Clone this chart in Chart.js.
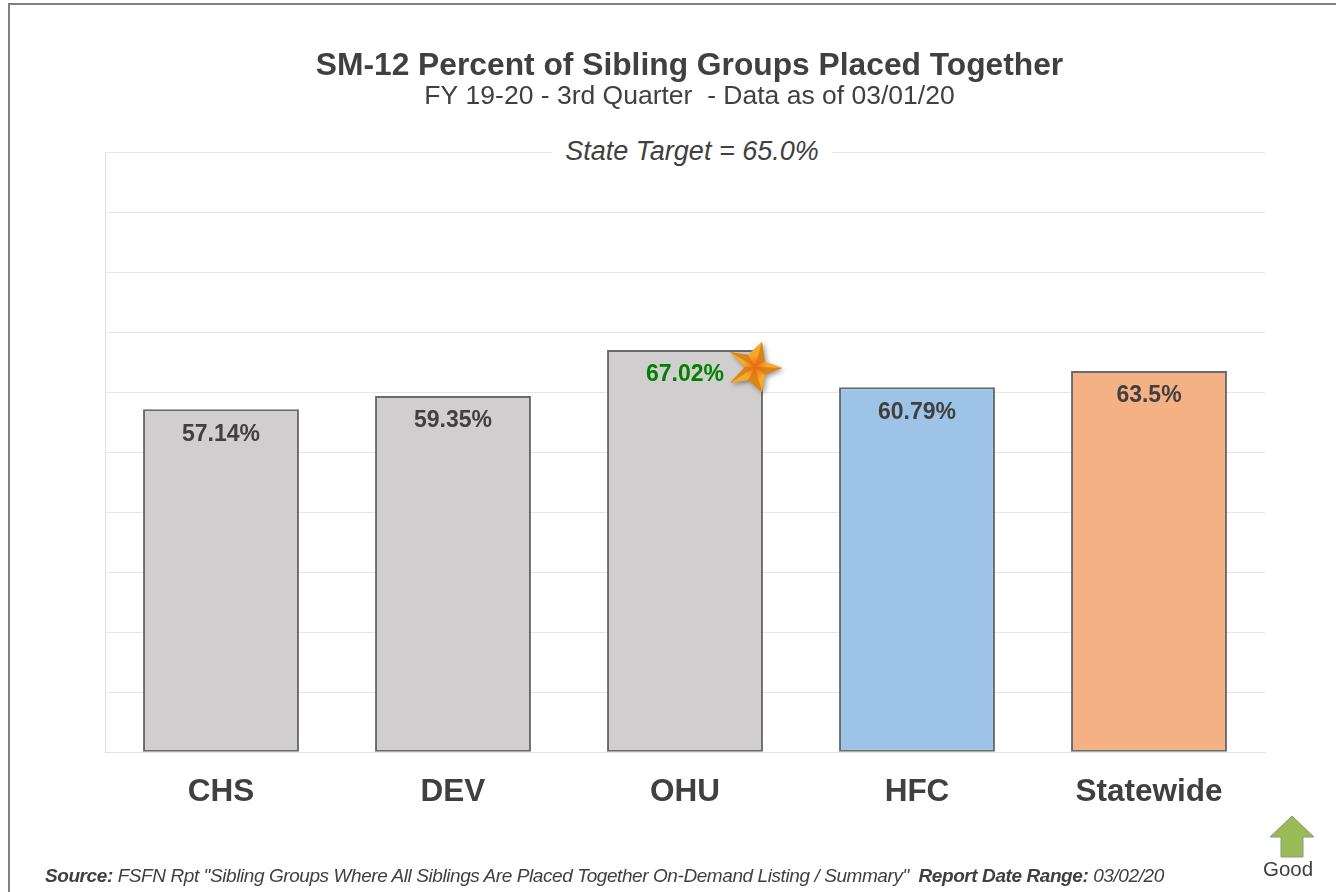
<!DOCTYPE html>
<html>
<head>
<meta charset="utf-8">
<title>SM-12 Percent of Sibling Groups Placed Together</title>
<script src="https://cdn.jsdelivr.net/npm/chart.js@4"></script>
<style>
  html, body { margin: 0; padding: 0; background: #fff; overflow: hidden; }
  body { position: relative; width: 1336px; height: 892px; font-family: "Liberation Sans", Arial, sans-serif; color: #404040; }
  #frame { position: absolute; left: 8px; top: 3px; right: 0; bottom: 0; border-left: 2px solid #808080; border-top: 2px solid #808080; }
  canvas { position: absolute; left: 0; top: 0; }
  .note { position: absolute; white-space: nowrap; }
  #target { left: 552px; top: 136px; width: 280px; text-align: center; background: #fff; font-size: 27px; font-style: italic; line-height: 30px; }
  #source { left: 45px; top: 865px; font-size: 19px; font-style: italic; line-height: 22px; letter-spacing: -0.42px; }
  #good { left: 1263px; top: 858px; font-size: 20.5px; line-height: 22px; }
  #arrow { position: absolute; left: 1269px; top: 815px; }
</style>
</head>
<body>
<div id="frame"></div>
<canvas id="chart" width="1336" height="892"></canvas>
<div class="note" id="target">State Target = 65.0%</div>
<div class="note" id="source"><b>Source:</b> FSFN Rpt "Sibling Groups Where All Siblings Are Placed Together On-Demand Listing / Summary" &nbsp;<b>Report Date Range:</b> 03/02/20</div>
<svg id="arrow" width="46" height="44"><path d="M23 1 L45 22 L34 22 L34 42 L12 42 L12 22 L1 22 Z" fill="#9BBB59" stroke="#8a9a78" stroke-width="1"/></svg>
<div class="note" id="good">Good</div>
<script>
const categories = ['CHS', 'DEV', 'OHU', 'HFC', 'Statewide'];
const percentValues = [57.14, 59.35, 67.02, 60.79, 63.5];
const valueLabels = ['57.14%', '59.35%', '67.02%', '60.79%', '63.5%'];
const barColors = ['#D0CECE', '#D0CECE', '#D0CECE', '#9DC3E6', '#F4B183'];
const labelColors = ['#404040', '#404040', '#008000', '#404040', '#404040'];
const starIndex = 2; // OHU beat the target

const FONT = '"Liberation Sans", Arial, sans-serif';

function drawStar(ctx, cx, cy) {
    const tips = [[7, -25], [27, 1], [7, 25], [-25, 16], [-25, -15]];
    const inner = [[10, -5], [10, 8], [-7, 13], [-10, 0], [-7, -12]];
    ctx.save();
    ctx.translate(cx, cy);
    // silhouette first so the shadow falls behind the facets
    ctx.save();
    ctx.shadowColor = 'rgba(0,0,0,0.4)';
    ctx.shadowBlur = 5;
    ctx.shadowOffsetX = 2;
    ctx.shadowOffsetY = 2;
    ctx.fillStyle = '#F29A1E';
    ctx.beginPath();
    tips.forEach((t, i) => {
        ctx.lineTo(t[0], t[1]);
        ctx.lineTo(inner[i][0], inner[i][1]);
    });
    ctx.closePath();
    ctx.fill();
    ctx.restore();
    tips.forEach((t, i) => {
        const prev = inner[(i + 4) % 5];
        ctx.fillStyle = '#F6A92A';
        ctx.beginPath();
        ctx.moveTo(0, 0); ctx.lineTo(prev[0], prev[1]); ctx.lineTo(t[0], t[1]);
        ctx.closePath();
        ctx.fill();
        ctx.fillStyle = '#D9851A';
        ctx.beginPath();
        ctx.moveTo(0, 0); ctx.lineTo(t[0], t[1]); ctx.lineTo(inner[i][0], inner[i][1]);
        ctx.closePath();
        ctx.fill();
    });
    const glow = ctx.createRadialGradient(0, 0, 1, 0, 0, 12);
    glow.addColorStop(0, 'rgba(240,100,20,0.9)');
    glow.addColorStop(1, 'rgba(240,100,20,0)');
    ctx.fillStyle = glow;
    ctx.beginPath();
    ctx.arc(0, 0, 12, 0, Math.PI * 2);
    ctx.fill();
    ctx.restore();
}

const barLabelPlugin = {
    id: 'barLabels',
    afterLayout(chart) {
        // reference headings sit a little right of the plot centre
        chart.boxes.forEach(box => {
            if (box.options && box.options.text) { box.left += 4.5; box.right += 4.5; }
        });
    },
    afterDatasetsDraw(chart) {
        const ctx = chart.ctx;
        const bars = chart.getDatasetMeta(0).data;
        ctx.save();
        ctx.font = 'bold 23px ' + FONT;
        ctx.textAlign = 'center';
        ctx.textBaseline = 'middle';
        bars.forEach((bar, i) => {
            ctx.fillStyle = labelColors[i];
            ctx.fillText(valueLabels[i], bar.x, bar.y + 25);
        });
        ctx.restore();
        const star = bars[starIndex];
        drawStar(ctx, star.x + 70, star.y + 17);
    }
};

new Chart(document.getElementById('chart'), {
    type: 'bar',
    data: {
        labels: categories,
        datasets: [{
            data: percentValues,
            backgroundColor: barColors,
            borderColor: '#6a6a6a',
            borderWidth: 2,
            borderSkipped: false,
            barPercentage: 0.672,
            categoryPercentage: 1
        }]
    },
    options: {
        responsive: false,
        animation: false,
        layout: { padding: { left: 105, right: 71, top: 50, bottom: 60 } },
        plugins: {
            legend: { display: false },
            tooltip: { enabled: false },
            title: {
                display: true,
                text: 'SM-12 Percent of Sibling Groups Placed Together',
                color: '#404040',
                font: { family: FONT, size: 31.75, weight: 'bold', lineHeight: 1 },
                padding: { top: 0, bottom: 0 }
            },
            subtitle: {
                display: true,
                text: 'FY 19-20 - 3rd Quarter  - Data as of 03/01/20',
                color: '#404040',
                font: { family: FONT, size: 26.5, lineHeight: 1.1 },
                padding: { top: 0, bottom: 41.1 }
            }
        },
        scales: {
            x: {
                grid: { display: false, drawTicks: false },
                border: { color: '#E2E2E2' },
                ticks: { color: '#404040', padding: 21, maxRotation: 0, font: { family: FONT, size: 31.5, weight: 'bold' } }
            },
            y: {
                min: 0,
                max: 100,
                grid: { color: '#E6E6E6', drawTicks: false },
                border: { color: '#E2E2E2' },
                ticks: { display: false, stepSize: 10 }
            }
        }
    },
    plugins: [barLabelPlugin]
});
</script>
</body>
</html>
